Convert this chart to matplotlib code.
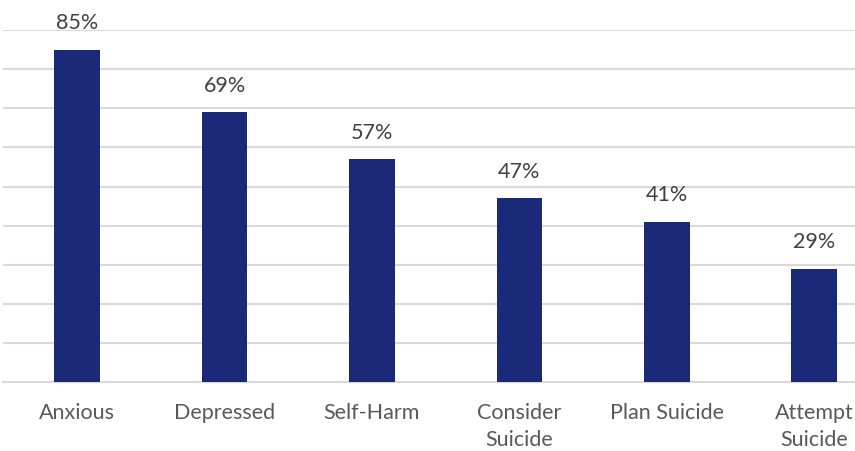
import numpy as np
import matplotlib.pyplot as plt

categories = ["Anxious", "Depressed", "Self-Harm", "Consider\nSuicide", "Plan Suicide", "Attempt\nSuicide"]
values = [85, 69, 57, 47, 41, 29]
value_labels = ["85%", "69%", "57%", "47%", "41%", "29%"]

plt.rcParams['font.family'] = ['Lato', 'DejaVu Sans']

fig = plt.figure(figsize=(8.55, 4.51), dpi=100)
# axes runs past the right edge, like the cropped original
ax = fig.add_axes([0.0039, 0.153, 1.0347, 0.780])

x = np.arange(len(categories))
bars = ax.bar(x, values, width=0.31, color='#1b2a78', zorder=3)

for b, lab in zip(bars, value_labels):
    ax.annotate(lab, (b.get_x() + b.get_width() / 2, b.get_height()),
                xytext=(0, 12), textcoords='offset points',
                ha='center', va='bottom', fontsize=15.5, color='#404040')

ax.set_xlim(-0.5, len(categories) - 0.5)
ax.set_ylim(0, 90)
ax.set_yticks(np.arange(0, 91, 10))
ax.set_yticklabels([])
ax.yaxis.grid(True, color='#d9d9d9', linewidth=1.5, zorder=0)
ax.tick_params(axis='y', length=0)
ax.set_xticks(x)
ax.set_xticklabels(categories, fontsize=15.5, color='#595959', linespacing=1.45)
ax.tick_params(axis='x', length=0, pad=15)
for s in ['top', 'right', 'left']:
    ax.spines[s].set_visible(False)
ax.spines['bottom'].set_color('#d9d9d9')
ax.spines['bottom'].set_linewidth(1.5)

fig.savefig('out.png', dpi=100)
